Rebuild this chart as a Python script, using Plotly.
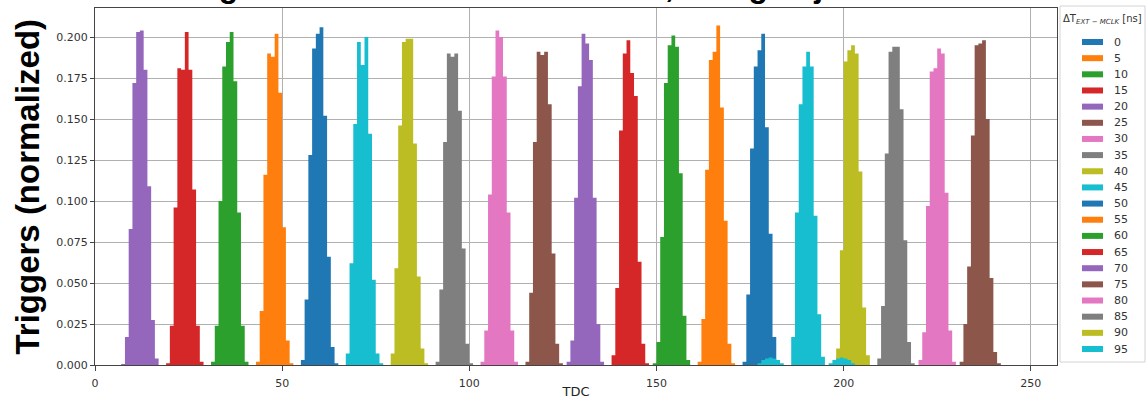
import plotly.graph_objects as go

# Delay values (legend order) and colours (matplotlib tab10 cycle)
delays = [0, 5, 10, 15, 20, 25, 30, 35, 40, 45, 50, 55, 60, 65, 70, 75, 80, 85, 90, 95]
colors = ['#1f77b4', '#ff7f0e', '#2ca02c', '#d62728', '#9467bd',
          '#8c564b', '#e377c2', '#7f7f7f', '#bcbd22', '#17becf'] * 2

# first TDC bin (left edge) of each histogram, same order as delays
first_bin = [55, 43, 31, 19, 7, 231, 220, 209, 198, 186,
             173, 161, 149, 138, 126, 115, 103, 91, 79, 67]

# normalized trigger fractions per TDC bin (bin width = 1)
h00 = [0.003, 0.040, 0.128, 0.193, 0.202, 0.206, 0.152, 0.066, 0.011, 0.001]
h05 = [0.002, 0.033, 0.116, 0.190, 0.188, 0.202, 0.166, 0.084, 0.015, 0.001]
h10 = [0.002, 0.024, 0.100, 0.182, 0.197, 0.203, 0.173, 0.093, 0.024, 0.002]
h15 = [0.001, 0.024, 0.096, 0.181, 0.180, 0.203, 0.180, 0.107, 0.024, 0.002]
h20 = [0.0006, 0.017, 0.083, 0.172, 0.203, 0.204, 0.180, 0.109, 0.0275, 0.004]
h25 = [0.002, 0.025, 0.060, 0.140, 0.195, 0.196, 0.198, 0.150, 0.053, 0.008, 0.001]
h30 = [0.003, 0.020, 0.097, 0.179, 0.181, 0.193, 0.190, 0.105, 0.021, 0.002]
h35 = [0.004, 0.036, 0.129, 0.191, 0.194, 0.194, 0.156, 0.076, 0.014, 0.001]
h40 = [0.010, 0.070, 0.185, 0.192, 0.195, 0.190, 0.118, 0.035, 0.006]
h45 = [0.017, 0.093, 0.159, 0.182, 0.191, 0.182, 0.091, 0.031, 0.005]
h50 = [0.002, 0.043, 0.132, 0.182, 0.192, 0.202, 0.145, 0.080, 0.017, 0.003]
h55 = [0.002, 0.028, 0.119, 0.186, 0.191, 0.207, 0.157, 0.088, 0.013, 0.001]
h60 = [0.001, 0.014, 0.078, 0.172, 0.195, 0.201, 0.194, 0.117, 0.030, 0.003]
h65 = [0.006, 0.047, 0.143, 0.190, 0.198, 0.178, 0.164, 0.063, 0.013, 0.001]
h70 = [0.002, 0.015, 0.102, 0.170, 0.202, 0.196, 0.186, 0.102, 0.025, 0.002]
h75 = [0.002, 0.044, 0.136, 0.191, 0.189, 0.191, 0.159, 0.068, 0.013, 0.001]
h80 = [0.002, 0.021, 0.104, 0.176, 0.204, 0.200, 0.176, 0.093, 0.021, 0.002]
h85 = [0.002, 0.046, 0.136, 0.190, 0.188, 0.190, 0.155, 0.071, 0.013, 0.001]
h90 = [0.007, 0.059, 0.146, 0.197, 0.199, 0.199, 0.135, 0.054, 0.010, 0.001]
h95 = [0.007, 0.062, 0.147, 0.197, 0.183, 0.200, 0.141, 0.052, 0.007, 0.001]

# small side lobes of the 95 ns series
side95_first_bins = [177, 196]
side95_a = [0.001, 0.003, 0.004, 0.0045, 0.004, 0.003, 0.001]
side95_b = [0.001, 0.003, 0.004, 0.0045, 0.004, 0.003, 0.001]

hists = [h00, h05, h10, h15, h20, h25, h30, h35, h40, h45,
         h50, h55, h60, h65, h70, h75, h80, h85, h90, h95]


def step_trace(b0, vals, color):
    """stepfilled histogram (bin width 1) drawn via the library's x/y axes"""
    xs = [b0 + i for i in range(len(vals) + 1)]
    ys = list(vals) + [vals[-1]]
    return go.Scatter(x=xs, y=ys, mode='lines', line=dict(shape='hv', width=0, color=color),
                      fill='tozeroy', fillcolor=color, showlegend=False, hoverinfo='skip')


fig = go.Figure()
for d, c, b0, vals in zip(delays, colors, first_bin, hists):
    fig.add_trace(step_trace(b0, vals, c))
    if d == 95:
        for sb, sv in zip(side95_first_bins, [side95_a, side95_b]):
            fig.add_trace(step_trace(sb, sv, c))

# ---- layout geometry (pixels) ----
W, H = 1147, 399
L, R, T, B = 95, 90, 8, 34
PW, PH = W - L - R, H - T - B


def px(xp):
    return (xp - L) / PW


def py(yp):
    return (H - B - yp) / PH


tick_font = dict(family='DejaVu Sans', size=11, color='#333333')

shapes = []
annotations = [
    dict(text='<b>Triggers (normalized)</b>', xref='paper', yref='paper',
         x=px(27), y=0.5, xanchor='center', yanchor='middle', textangle=-90,
         showarrow=False, font=dict(family='Liberation Sans', size=33, color='black')),
    dict(text='<b>Single TDC counts for ΔT values, using adjusted MCLK</b>',
         xref='paper', yref='paper', x=px(167), y=py(6), xanchor='left', yanchor='bottom',
         showarrow=False, font=dict(family='Liberation Sans', size=32, color='black')),
]

# ---- hand-built legend (matplotlib style, compact) ----
leg_x0, leg_x1, leg_y0, leg_y1 = 1060, 1145, 6, 362
shapes.append(dict(type='rect', xref='paper', yref='paper',
                   x0=px(leg_x0), x1=px(leg_x1), y0=py(leg_y1), y1=py(leg_y0),
                   line=dict(color='#d4d4d4', width=1), fillcolor='white', layer='above'))
annotations.append(dict(text='ΔT<sub><i>EXT − MCLK</i></sub> [ns]', xref='paper', yref='paper',
                        x=px((leg_x0 + leg_x1) / 2), y=py(19), xanchor='center', yanchor='middle',
                        showarrow=False,
                        font=dict(family='DejaVu Sans', size=10, color='#333333')))
item_y0, item_dy = 42, (349 - 42) / 19
for i, (d, c) in enumerate(zip(delays, colors)):
    yc = item_y0 + i * item_dy
    shapes.append(dict(type='rect', xref='paper', yref='paper',
                       x0=px(1082), x1=px(1103), y0=py(yc + 3), y1=py(yc - 3),
                       line=dict(width=0), fillcolor=c, layer='above'))
    annotations.append(dict(text=str(d), xref='paper', yref='paper',
                            x=px(1112), y=py(yc), xanchor='left', yanchor='middle',
                            showarrow=False,
                            font=dict(family='DejaVu Sans', size=11, color='#333333')))

fig.update_layout(
    width=W, height=H,
    margin=dict(l=L, r=R, t=T, b=B, autoexpand=False),
    paper_bgcolor='white', plot_bgcolor='white',
    showlegend=False,
    xaxis=dict(range=[0, 257], tickvals=[0, 50, 100, 150, 200, 250],
               showgrid=True, gridcolor='#b0b0b0', gridwidth=1,
               showline=True, linecolor='#444444', linewidth=1, mirror=True,
               ticks='outside', ticklen=5, tickcolor='#444444',
               ticklabelstandoff=3, automargin=False,
               tickfont=tick_font, zeroline=False,
               title=dict(text='TDC', font=dict(family='DejaVu Sans', size=13, color='#222222'),
                          standoff=3)),
    yaxis=dict(range=[0, 0.2177],
               tickvals=[0, 0.025, 0.05, 0.075, 0.1, 0.125, 0.15, 0.175, 0.2],
               tickformat='.3f', automargin=False,
               showgrid=True, gridcolor='#b0b0b0', gridwidth=1,
               showline=True, linecolor='#444444', linewidth=1, mirror=True,
               ticks='outside', ticklen=4, tickcolor='#444444',
               tickfont=tick_font, zeroline=False),
    shapes=shapes,
    annotations=annotations,
)

fig.write_html('out.html')
